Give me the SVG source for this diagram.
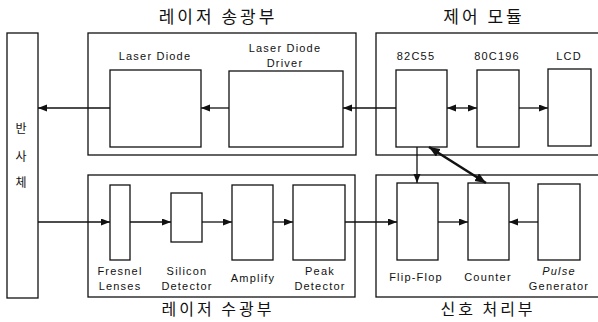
<svg xmlns="http://www.w3.org/2000/svg" width="598" height="322" viewBox="0 0 598 322">
<defs>
<style>
.box{fill:#fff;stroke:#111;stroke-width:1.3}
.grp{fill:none;stroke:#111;stroke-width:1.3}
.lbl{font-family:"Liberation Sans",Arial,sans-serif;font-size:11px;letter-spacing:1.2px;fill:#111;text-anchor:middle}
.ttl{font-family:"Noto Sans CJK KR","Noto Sans",sans-serif;font-size:17px;letter-spacing:3px;fill:#111;text-anchor:middle}
.ttlb{font-family:"Noto Sans CJK KR","Noto Sans",sans-serif;font-size:16px;letter-spacing:3px;fill:#111;text-anchor:middle}
.ref{font-family:"Noto Sans CJK KR",sans-serif;font-size:12px;fill:#111;text-anchor:middle}
.ln{fill:none;stroke:#111;stroke-width:1.3}
.thick{fill:none;stroke:#111;stroke-width:2.6}
</style>
<marker id="ah" markerUnits="userSpaceOnUse" markerWidth="10" markerHeight="8" refX="9" refY="3.5" orient="auto-start-reverse"><path d="M0,0 L9,3.5 L0,7 z" fill="#111"/></marker>
<marker id="ahb" markerUnits="userSpaceOnUse" markerWidth="12" markerHeight="10" refX="11" refY="4.5" orient="auto-start-reverse"><path d="M0,0 L11,4.5 L0,9 z" fill="#111"/></marker>
</defs>
<g id="reflector"><rect class="box" x="7" y="33" width="31" height="265"/><text class="ref" x="21" y="133">반</text><text class="ref" x="21" y="161">사</text><text class="ref" x="21" y="187">체</text></g>
<g id="transmitter"><rect class="grp" x="88" y="33" width="268" height="122"/><text class="ttl" x="218" y="23">레이저 송광부</text></g>
<g id="control"><rect class="grp" x="376" y="33" width="226" height="122"/><text class="ttl" x="484" y="23">제어 모듈</text></g>
<g id="receiver"><rect class="grp" x="88" y="175" width="267" height="122"/><text class="ttlb" x="218" y="315">레이저 수광부</text></g>
<g id="signal"><rect class="grp" x="376" y="175" width="226" height="122"/><text class="ttlb" x="488" y="315">신호 처리부</text></g>
<g id="laser-diode"><rect class="box" x="110" y="70" width="91" height="77"/><text class="lbl" x="155" y="60">Laser Diode</text></g>
<g id="laser-driver"><rect class="box" x="229" y="71" width="114" height="76"/><text class="lbl" x="285" y="52">Laser Diode</text><text class="lbl" x="285" y="67">Driver</text></g>
<g id="n82c55"><rect class="box" x="396" y="70" width="51" height="77"/><text class="lbl" x="416" y="60">82C55</text></g>
<g id="n80c196"><rect class="box" x="477" y="70" width="42" height="77"/><text class="lbl" x="497" y="60">80C196</text></g>
<g id="lcd"><rect class="box" x="548" y="69" width="43" height="77"/><text class="lbl" x="569" y="60">LCD</text></g>
<g id="fresnel"><rect class="box" x="110" y="185" width="20" height="75"/><text class="lbl" x="120" y="275">Fresnel</text><text class="lbl" x="120" y="290">Lenses</text></g>
<g id="silicon"><rect class="box" x="171" y="193" width="31" height="49"/><text class="lbl" x="187" y="275">Silicon</text><text class="lbl" x="187" y="290">Detector</text></g>
<g id="amplify"><rect class="box" x="232" y="185" width="41" height="75"/><text class="lbl" x="253" y="282">Amplify</text></g>
<g id="peak"><rect class="box" x="293" y="185" width="52" height="75"/><text class="lbl" x="320" y="275">Peak</text><text class="lbl" x="320" y="290">Detector</text></g>
<g id="flipflop"><rect class="box" x="397" y="183" width="41" height="77"/><text class="lbl" x="416" y="281">Flip-Flop</text></g>
<g id="counter"><rect class="box" x="468" y="183" width="41" height="77"/><text class="lbl" x="488" y="281">Counter</text></g>
<g id="pulse"><rect class="box" x="538" y="184" width="42" height="76"/><text class="lbl" x="559" y="275" font-style="italic">Pulse</text><text class="lbl" x="559" y="290">Generator</text></g>
<g id="connectors">
<line class="ln" x1="229" y1="108" x2="201" y2="108" marker-end="url(#ah)"/>
<line class="ln" x1="110" y1="108" x2="38" y2="108" marker-end="url(#ah)"/>
<line class="ln" x1="396" y1="108" x2="343" y2="108" marker-end="url(#ah)"/>
<line class="ln" x1="447" y1="108" x2="477" y2="108" marker-start="url(#ah)" marker-end="url(#ah)"/>
<line class="ln" x1="519" y1="108" x2="548" y2="108" marker-end="url(#ah)"/>
<line class="ln" x1="38" y1="222" x2="110" y2="222" marker-end="url(#ah)"/>
<line class="ln" x1="130" y1="222" x2="171" y2="222" marker-end="url(#ah)"/>
<line class="ln" x1="202" y1="222" x2="232" y2="222" marker-end="url(#ah)"/>
<line class="ln" x1="273" y1="222" x2="293" y2="222" marker-end="url(#ah)"/>
<line class="ln" x1="345" y1="222" x2="397" y2="222" marker-end="url(#ah)"/>
<line class="ln" x1="438" y1="222" x2="468" y2="222" marker-end="url(#ah)"/>
<line class="ln" x1="538" y1="222" x2="509" y2="222" marker-end="url(#ah)"/>
<line class="ln" x1="417" y1="147" x2="417" y2="183" marker-end="url(#ah)"/>
<line class="thick" x1="429" y1="147" x2="486" y2="183" marker-start="url(#ahb)" marker-end="url(#ahb)"/>
</g>
</svg>
